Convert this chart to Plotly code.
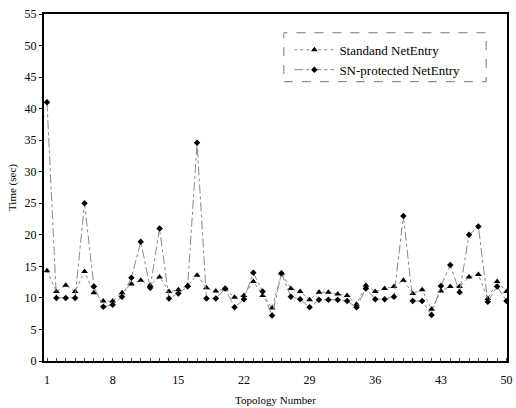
import plotly.graph_objects as go

topology = list(range(1, 51))

standard = [14.3, 11.0, 12.0, 11.0, 14.2, 10.8, 9.5, 9.5, 10.8, 12.2,
            12.8, 12.0, 13.3, 11.0, 11.3, 12.0, 13.6, 11.6, 11.1, 11.4,
            10.1, 10.4, 12.6, 10.4, 8.4, 13.9, 11.5, 11.0, 9.7, 10.9,
            10.9, 10.6, 10.4, 9.0, 12.0, 11.0, 11.5, 11.8, 12.8, 10.7,
            11.3, 8.2, 11.1, 11.8, 11.8, 13.3, 13.7, 9.9, 12.6, 11.0]

sn_protected = [41.0, 10.0, 10.0, 10.0, 25.0, 11.8, 8.6, 8.9, 10.2, 13.2,
                18.9, 11.6, 21.0, 9.9, 10.7, 11.8, 34.6, 9.9, 9.9, 11.5,
                8.5, 9.8, 14.0, 11.0, 7.2, 13.9, 10.2, 9.8, 8.5, 9.7,
                9.7, 9.7, 9.5, 8.5, 11.5, 9.8, 9.8, 10.2, 23.0, 9.5,
                9.5, 7.3, 11.9, 15.2, 10.9, 20.0, 21.3, 9.4, 11.8, 9.5]

x_ticks = [1, 8, 15, 22, 29, 36, 43, 50]
y_ticks = list(range(0, 56, 5))

FONT = "Liberation Serif, Times New Roman, serif"

fig = go.Figure()
fig.add_trace(go.Scatter(
    x=topology, y=standard, name="Standand NetEntry",
    mode="lines+markers",
    line=dict(color="#888888", width=1, dash="dot"),
    marker=dict(symbol="triangle-up", size=6, color="black"),
))
fig.add_trace(go.Scatter(
    x=topology, y=sn_protected, name="SN-protected NetEntry",
    mode="lines+markers",
    line=dict(color="#888888", width=1, dash="dashdot"),
    marker=dict(symbol="diamond", size=5, color="black"),
))

# dashed legend frame
fig.add_shape(type="rect", xref="paper", yref="paper",
              x0=0.518, x1=0.955, y0=0.805, y1=0.946,
              line=dict(color="#777777", width=1, dash="dash"),
              fillcolor="rgba(0,0,0,0)")

fig.update_layout(
    width=516, height=408,
    margin=dict(l=44, r=3, t=14, b=45),
    paper_bgcolor="white", plot_bgcolor="white",
    font=dict(family=FONT, size=12, color="black"),
    showlegend=True,
    legend=dict(x=0.53, y=0.94, xanchor="left", yanchor="top",
                bgcolor="rgba(0,0,0,0)", borderwidth=0,
                font=dict(family=FONT, size=13, color="black"),
                itemwidth=40, tracegroupgap=2),
    xaxis=dict(range=[0.68, 50.05], tickmode="array", tickvals=x_ticks,
               showgrid=False, zeroline=False,
               showline=True, linecolor="black", linewidth=2, mirror=True,
               ticks="", ticklen=0, ticklabelstandoff=7,
               ticklabeloverflow="allow",
               minor=dict(ticks="inside", ticklen=3, dtick=1, tick0=1, tickcolor="#444444"),
               title=dict(text="Topology Number", font=dict(family=FONT, size=11), standoff=10),
               tickfont=dict(family=FONT, size=12)),
    yaxis=dict(range=[0, 55], tickmode="array", tickvals=y_ticks,
               showgrid=False, zeroline=False,
               showline=True, linecolor="black", linewidth=2, mirror=True,
               ticks="outside", ticklen=3, tickcolor="black",
               title=dict(text="Time (sec)", font=dict(family=FONT, size=11), standoff=6),
               tickfont=dict(family=FONT, size=12)),
)

fig.write_html("out.html")
